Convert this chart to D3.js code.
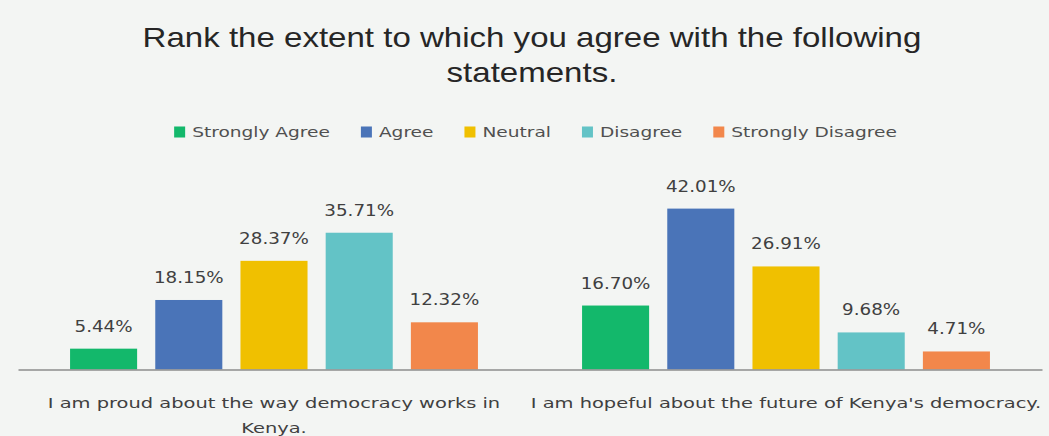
<!DOCTYPE html>
<html>
<head>
<meta charset="utf-8">
<script src="https://cdn.jsdelivr.net/npm/d3@7"></script>
<style>
  html, body { margin: 0; padding: 0; background: #f3f5f3; }
  svg { display: block; }
</style>
</head>
<body>
<div id="chart"></div>
<script>
// ---- data ----
const titleLines = ["Rank the extent to which you agree with the following", "statements."];
const categories = ["I am proud about the way democracy works in Kenya.", "I am hopeful about the future of Kenya's democracy."];
const seriesNames = ["Strongly Agree", "Agree", "Neutral", "Disagree", "Strongly Disagree"];
const stronglyAgree = [5.44, 16.70];
const agree = [18.15, 42.01];
const neutral = [28.37, 26.91];
const disagree = [35.71, 9.68];
const stronglyDisagree = [12.32, 4.71];
const seriesColors = ["#13b86b", "#4a74b8", "#f0c000", "#63c3c6", "#f2874b"];

const seriesValues = [stronglyAgree, agree, neutral, disagree, stronglyDisagree];

// ---- layout ----
const W = 1049, H = 436;
const plot = { left: 18, right: 1042, top: 178, bottom: 369.5 };
const valueStretch = 1.22;
const legendStretch = 1.28;
const catStretch = 1.34;
const titleStretch = 1.18;
const labelFont = "'DejaVu Sans', sans-serif";

const svg = d3.select("#chart").append("svg")
  .attr("width", W).attr("height", H);

svg.append("rect").attr("width", W).attr("height", H).attr("fill", "#f3f5f3");

function fit(sel, sx) {
  sel.each(function () {
    const len = this.getComputedTextLength();
    d3.select(this).attr("textLength", len * sx).attr("lengthAdjust", "spacingAndGlyphs");
  });
}

// ---- title ----
const title = svg.append("g");
title.selectAll("text").data(titleLines).join("text")
  .attr("x", 532)
  .attr("y", (d, i) => 47 + i * 34.5)
  .attr("text-anchor", "middle")
  .attr("font-family", "'Liberation Sans', Arial, sans-serif")
  .attr("font-size", 28)
  .attr("fill", "#262626")
  .text(d => d)
  .call(fit, titleStretch);

// ---- legend ----
const legend = svg.append("g");
let lx = 0;
const legendGap = 31;
seriesNames.forEach((name, i) => {
  const g = legend.append("g");
  g.append("rect").attr("x", 0).attr("y", -5.5).attr("width", 11).attr("height", 11)
    .attr("fill", seriesColors[i]);
  const t = g.append("text").attr("x", 18).attr("y", 0)
    .attr("dominant-baseline", "central")
    .attr("font-family", labelFont).attr("font-size", 14.5)
    .attr("fill", "#505050").text(name);
  t.call(fit, legendStretch);
  const w = 18 + (+t.attr("textLength"));
  g.attr("transform", `translate(${lx},0)`);
  lx += w + legendGap;
});
const legendWidth = lx - legendGap;
legend.attr("transform", `translate(${535.5 - legendWidth / 2},132)`);

// ---- scales ----
const x0 = d3.scaleBand().domain(categories).range([plot.left, plot.right]).padding(0);
const x1 = d3.scaleBand().domain(seriesNames).range([0, x0.bandwidth()])
  .paddingInner(0.213).paddingOuter(0.611);
const y = d3.scaleLinear().domain([0, 50]).range([plot.bottom, plot.top]);

// ---- bars ----
const groups = svg.append("g").selectAll("g").data(categories).join("g")
  .attr("transform", d => `translate(${x0(d)},0)`);

const barData = (c, ci) => seriesNames.map((s, si) => ({ s, v: seriesValues[si][ci], color: seriesColors[si] }));

groups.each(function (c, ci) {
  const g = d3.select(this);
  const data = barData(c, ci);
  g.selectAll("rect").data(data).join("rect")
    .attr("x", d => x1(d.s))
    .attr("width", x1.bandwidth())
    .attr("y", d => y(d.v))
    .attr("height", d => y(0) - y(d.v))
    .attr("fill", d => d.color);
  g.selectAll("text.val").data(data).join("text")
    .attr("class", "val")
    .attr("x", d => x1(d.s) + x1.bandwidth() / 2)
    .attr("y", d => y(d.v) - 17)
    .attr("text-anchor", "middle")
    .attr("font-family", labelFont)
    .attr("font-size", 15)
    .attr("fill", "#404040")
    .text(d => d.v.toFixed(2) + "%")
    .call(fit, valueStretch);
});

// ---- axis ----
const axis = svg.append("g")
  .attr("transform", `translate(0,${plot.bottom})`)
  .call(d3.axisBottom(x0).tickSize(0).tickFormat(""));
axis.select(".domain").attr("stroke", "#8c8c8c").attr("stroke-width", 1.5);

// category labels with wrapping
const maxLabelWidth = 517;
const labels = svg.append("g");
categories.forEach(c => {
  const cx = x0(c) + x0.bandwidth() / 2;
  const words = c.split(" ");
  const lines = [];
  let cur = [];
  const probe = labels.append("text").attr("font-family", labelFont).attr("font-size", 14.5);
  words.forEach(w => {
    const test = cur.concat([w]).join(" ");
    probe.text(test);
    if (probe.node().getComputedTextLength() * catStretch > maxLabelWidth && cur.length) {
      lines.push(cur.join(" "));
      cur = [w];
    } else cur.push(w);
  });
  lines.push(cur.join(" "));
  probe.remove();
  lines.forEach((ln, i) => {
    labels.append("text")
      .attr("x", cx).attr("y", 408 + i * 25)
      .attr("text-anchor", "middle")
      .attr("font-family", labelFont).attr("font-size", 14.5)
      .attr("fill", "#404040")
      .text(ln)
      .call(fit, catStretch);
  });
});
</script>
</body>
</html>
